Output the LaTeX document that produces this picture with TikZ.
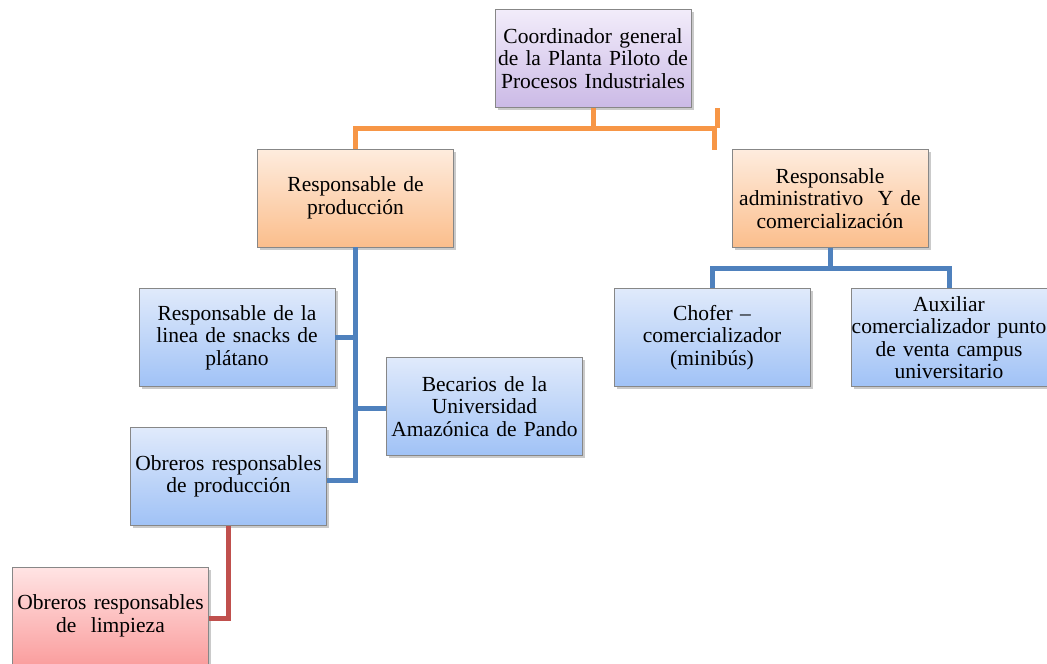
\documentclass[tikz,border=0pt]{standalone}
\usepackage{fontspec}
\setmainfont{Liberation Serif}
\usetikzlibrary{shadows}
\definecolor{purT}{RGB}{242,236,250}
\definecolor{purB}{RGB}{203,186,230}
\definecolor{orT}{RGB}{254,236,222}
\definecolor{orB}{RGB}{251,190,140}
\definecolor{blT}{RGB}{224,234,251}
\definecolor{blB}{RGB}{160,194,246}
\definecolor{rdT}{RGB}{255,228,228}
\definecolor{rdB}{RGB}{250,158,158}
\definecolor{orL}{RGB}{247,150,70}
\definecolor{blL}{RGB}{79,129,189}
\definecolor{rdL}{RGB}{192,80,77}
\definecolor{bord}{RGB}{135,135,135}
\tikzset{
  box/.style={rectangle, draw=bord, line width=0.8pt, inner sep=0pt,
    minimum width=196pt, minimum height=98pt, text width=192pt, align=center,
    font=\fontsize{21.5}{22.5}\selectfont,
    drop shadow={shadow xshift=2.5pt, shadow yshift=-2.5pt, opacity=0.35, fill=black!60}},
  purbox/.style={box, top color=purT, bottom color=purB},
  orbox/.style={box, top color=orT, bottom color=orB},
  blbox/.style={box, top color=blT, bottom color=blB},
  rdbox/.style={box, top color=rdT, bottom color=rdB},
  conn/.style={line width=5pt},
}
\begin{document}
\begin{tikzpicture}[x=1pt,y=-1pt]
\useasboundingbox (0,0) rectangle (1047,664);
\clip (0,0) rectangle (1047,664);
\coordinate (oj) at (593,128);
\coordinate (oL) at (355.5,128);
\coordinate (oR) at (717,128);
\coordinate (tTop) at (717,108);
\coordinate (tMid) at (714,128);
\coordinate (tBot) at (714,150);
\coordinate (rj) at (831,268);

\node[purbox] (coord) at (593,58.5) {Coordinador general de la Planta Piloto de Procesos Industriales};
\node[orbox] (prod) at (355.5,198) {Responsable de\\producción};
\node[orbox] (admin) at (830,198.5) {Responsable\\administrativo~~Y de\\comercialización};
\node[blbox] (linea) at (237,337.5) {Responsable de la\\linea de snacks de\\plátano};
\node[blbox] (becarios) at (484.5,406.5) {Becarios de la\\Universidad\\Amazónica de Pando};
\node[blbox] (obprod) at (228.5,476.5) {Obreros responsables\\de producción};
\node[rdbox] (limp) at (110.5,616) {Obreros responsables\\de~~limpieza};
\node[blbox] (chofer) at (712,337.5) {Chofer --\\comercializador\\(minibús)};
\node[blbox, text width=210pt, inner xsep=-7pt] (aux) at (949,337.5) {Auxiliar\\comercializador punto\\de venta campus\\universitario};

\draw[conn, orL] (coord.south) -- (oj);
\draw[conn, orL] (prod.north) -- (oL) -- (oR);
\draw[conn, orL] (tTop) -- (oR);
\draw[conn, orL] (tMid) -- (tBot);

\draw[conn, blL] (prod.south) |- ([yshift=-3.5pt]obprod.east);
\draw[conn, blL] (linea.east) -- (linea.east -| prod.south);
\draw[conn, blL] ([yshift=-1.5pt]becarios.west) -- ([yshift=-1.5pt]becarios.west -| prod.south);

\draw[conn, blL] (admin.south) -- (admin.south |- rj);
\draw[conn, blL] (chofer.north) |- (rj) -| (aux.north);

\draw[conn, rdL] (obprod.south) |- ([yshift=-2pt]limp.east);
\end{tikzpicture}
\end{document}
